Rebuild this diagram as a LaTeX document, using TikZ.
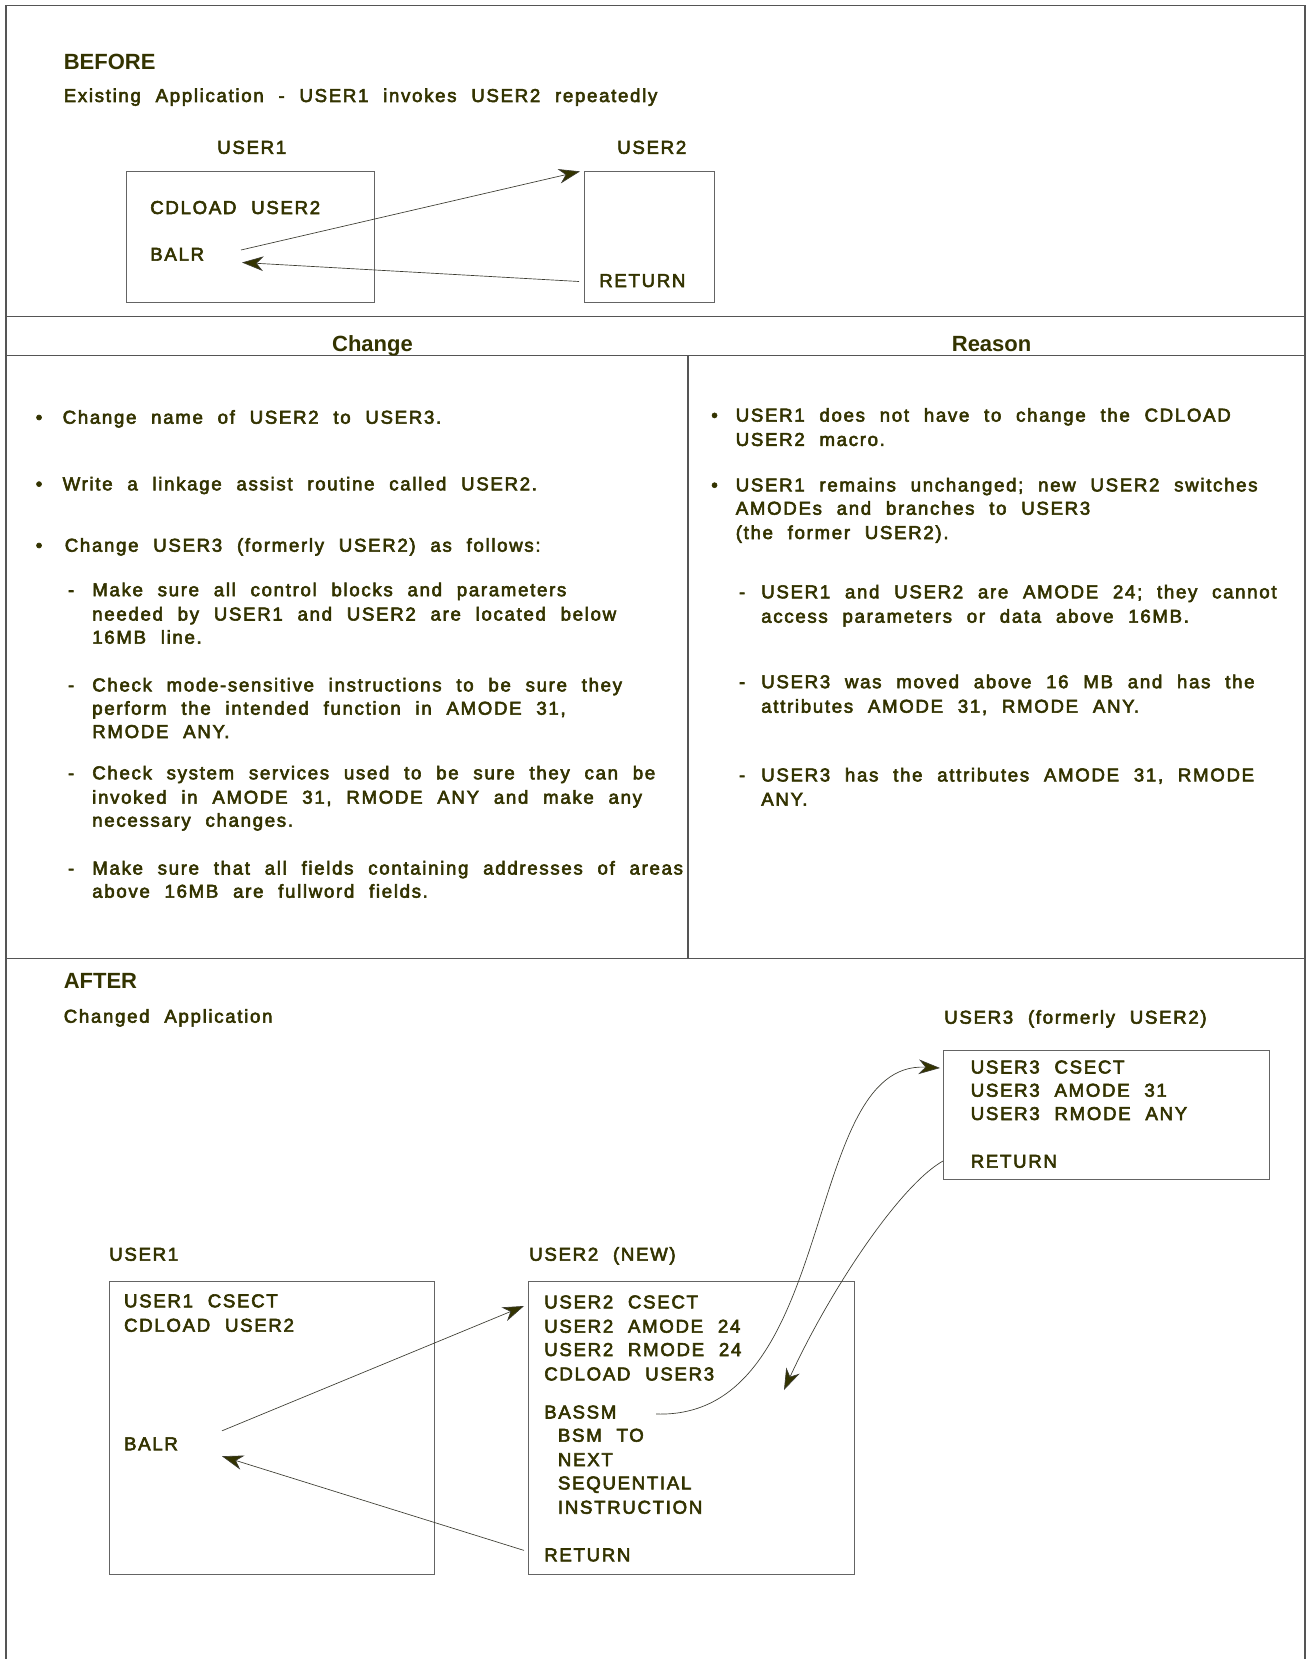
\documentclass[tikz,border=0pt]{standalone}
\usepackage{fontspec}
\setmainfont{Liberation Sans}[LetterSpace=9.0,WordSpace=2.15,FakeBold=3]
\newfontfamily\headfont{Liberation Sans}
\usetikzlibrary{arrows.meta}
\definecolor{ink}{RGB}{51,51,0}
\definecolor{rulec}{RGB}{85,85,85}
\definecolor{boxc}{RGB}{100,100,100}
\definecolor{arrc}{RGB}{60,60,50}
\begin{document}
\begin{tikzpicture}[x=0.75pt,y=-0.75pt,
  txt/.style={anchor=base west,inner sep=0pt,text=ink,font=\fontsize{14}{17}\selectfont},
  hdr/.style={anchor=base west,inner sep=0pt,text=ink,font=\headfont\fontsize{16.5}{19}\selectfont\bfseries},
  hdrc/.style={hdr,anchor=base},
  frameline/.style={draw=rulec,line width=0.8pt},
  box/.style={draw=boxc,line width=0.75pt,anchor=north west,inner sep=0pt},
  conn/.style={draw=arrc,line width=0.5pt,-{Stealth[length=16pt,width=11pt,inset=5pt,fill=ink]}}
]
\useasboundingbox (0,0) rectangle (1307,1659);
\fill[white] (0,0) rectangle (1307,1659);
% frame and table lines
\draw[frameline] (6,1659) -- (6,5.3) -- (1305,5.3) -- (1305,1659);
\draw[frameline] (6,316.4) -- (1305,316.4);
\draw[frameline] (6,355.6) -- (1305,355.6);
\draw[frameline] (6,958.8) -- (1305,958.8);
\draw[frameline] (688,355.6) -- (688,958.8);

% ---------------- BEFORE ----------------
\node[hdr] (before) at (63.5,69.4) {BEFORE};
\node[txt] (existing) at (63.5,102) {Existing Application - USER1 invokes USER2 repeatedly};
\node[txt] (bu1lab) at (217,153.8) {USER1};
\node[txt] (bu2lab) at (617,153.8) {USER2};
\node[box,minimum width=185.7pt,minimum height=97.65pt] (bbox1) at (126,171.4) {};
\node[box,minimum width=97.5pt,minimum height=97.65pt] (bbox2) at (584,171.4) {};
\node[txt] (bcdload) at (150,214) {CDLOAD USER2};
\node[txt] (bbalr) at (150,260.7) {BALR};
\node[txt] (bret) at (599,287) {RETURN};
\coordinate (bcallS) at (241,250);
\coordinate (bcallE) at (580,171.4);
\coordinate (bretS) at (579,281.5);
\coordinate (bretE) at (242,262.5);
\draw[conn] (bcallS) -- (bcallE);
\draw[conn] (bretS) -- (bretE);

% ---------------- headers ----------------
\node[hdrc] (hchange) at (372.5,351) {Change};
\node[hdrc] (hreason) at (991.6,351) {Reason};

% ---------------- Change column ----------------
\node[txt] (lb1) at (35.5,423.7) {•};
\node[txt] (l1) at (62.4,423.7) {Change name of USER2 to USER3.};
\node[txt] (lb2) at (35.5,490.3) {•};
\node[txt] (l2) at (62.4,490.3) {Write a linkage assist routine called USER2.};
\node[txt] (lb3) at (35.5,551.7) {•};
\node[txt] (l3) at (64.5,551.7) {Change USER3 (formerly USER2) as follows:};
\node[txt] (ld1) at (67.7,596.2) {-};
\node[txt] (l4) at (92,596.2) {Make sure all control blocks and parameters};
\node[txt] (l5) at (92,620.5) {needed by USER1 and USER2 are located below};
\node[txt] (l6) at (92,643.7) {16MB line.};
\node[txt] (ld2) at (67.7,691.4) {-};
\node[txt] (l7) at (92,691.4) {Check mode-sensitive instructions to be sure they};
\node[txt] (l8) at (92,714.7) {perform the intended function in AMODE 31,};
\node[txt] (l9) at (92,738) {RMODE ANY.};
\node[txt] (ld3) at (67.7,779.3) {-};
\node[txt] (l10) at (92,779.3) {Check system services used to be sure they can be};
\node[txt] (l11) at (92,803.7) {invoked in AMODE 31, RMODE ANY and make any};
\node[txt] (l12) at (92,826.7) {necessary changes.};
\node[txt] (ld4) at (67.7,874.5) {-};
\node[txt] (l13) at (92,874.5) {Make sure that all fields containing addresses of areas};
\node[txt] (l14) at (92,897.7) {above 16MB are fullword fields.};

% ---------------- Reason column ----------------
\node[txt] (rb1) at (711,421.6) {•};
\node[txt] (r1) at (735.5,421.6) {USER1 does not have to change the CDLOAD};
\node[txt] (r2) at (735.5,445.9) {USER2 macro.};
\node[txt] (rb2) at (711,491.4) {•};
\node[txt] (r3) at (735.5,491.4) {USER1 remains unchanged; new USER2 switches};
\node[txt] (r4) at (735.5,514.7) {AMODEs and branches to USER3};
\node[txt] (r5) at (735.5,539) {(the former USER2).};
\node[txt] (rd1) at (738.7,598.3) {-};
\node[txt] (r6) at (761,598.3) {USER1 and USER2 are AMODE 24; they cannot};
\node[txt] (r7) at (761,622.7) {access parameters or data above 16MB.};
\node[txt] (rd2) at (738.7,688.2) {-};
\node[txt] (r8) at (761,688.2) {USER3 was moved above 16 MB and has the};
\node[txt] (r9) at (761,712.7) {attributes AMODE 31, RMODE ANY.};
\node[txt] (rd3) at (738.7,781.4) {-};
\node[txt] (r10) at (761,781.4) {USER3 has the attributes AMODE 31, RMODE};
\node[txt] (r11) at (761,805.7) {ANY.};

% ---------------- AFTER ----------------
\node[hdr] (after) at (63.5,988) {AFTER};
\node[txt] (changed) at (63.5,1022.7) {Changed Application};
\node[txt] (au3lab) at (944,1023.7) {USER3 (formerly USER2)};
\node[box,minimum width=244.5pt,minimum height=96.75pt] (abox3) at (943,1050) {};
\node[txt] (u3a) at (970.5,1073.5) {USER3 CSECT};
\node[txt] (u3b) at (970.5,1096.7) {USER3 AMODE 31};
\node[txt] (u3c) at (970.5,1120) {USER3 RMODE ANY};
\node[txt] (u3ret) at (970.5,1167.7) {RETURN};

\node[txt] (au1lab) at (109,1260.7) {USER1};
\node[txt] (au2lab) at (529,1260.7) {USER2 (NEW)};
\node[box,minimum width=243.75pt,minimum height=219.9pt] (abox1) at (109,1280.5) {};
\node[box,minimum width=244.5pt,minimum height=219.9pt] (abox2) at (528,1280.5) {};
\node[txt] (u1a) at (123.8,1307.3) {USER1 CSECT};
\node[txt] (u1b) at (123.8,1331.7) {CDLOAD USER2};
\node[txt] (u1balr) at (123.8,1450.2) {BALR};
\node[txt] (u2a) at (544,1308.4) {USER2 CSECT};
\node[txt] (u2b) at (544,1332.7) {USER2 AMODE 24};
\node[txt] (u2c) at (544,1356) {USER2 RMODE 24};
\node[txt] (u2d) at (544,1380.4) {CDLOAD USER3};
\node[txt] (u2bassm) at (544,1418.5) {BASSM};
\node[txt] (u2e) at (557.7,1441.7) {BSM TO};
\node[txt] (u2f) at (557.7,1466.1) {NEXT};
\node[txt] (u2g) at (557.7,1489.4) {SEQUENTIAL};
\node[txt] (u2h) at (557.7,1513.7) {INSTRUCTION};
\node[txt] (u2ret) at (544,1561.3) {RETURN};

\coordinate (acallS) at (222,1430.8);
\coordinate (acallE) at (524,1306);
\coordinate (aretS) at (524,1550.4);
\coordinate (aretE) at (222,1456.2);
\coordinate (bsmS) at (656,1414);
\coordinate (bsmE) at (940,1068);
\coordinate (u3retS) at (943,1161);
\coordinate (u3retE) at (784,1390);
\draw[conn] (acallS) -- (acallE);
\draw[conn] (aretS) -- (aretE);
\draw[conn] (bsmS) .. controls (840,1420) and (800,1060) .. (bsmE);
\draw[conn] (u3retS) .. controls (900,1185) and (830,1290) .. (u3retE);
\end{tikzpicture}
\end{document}
